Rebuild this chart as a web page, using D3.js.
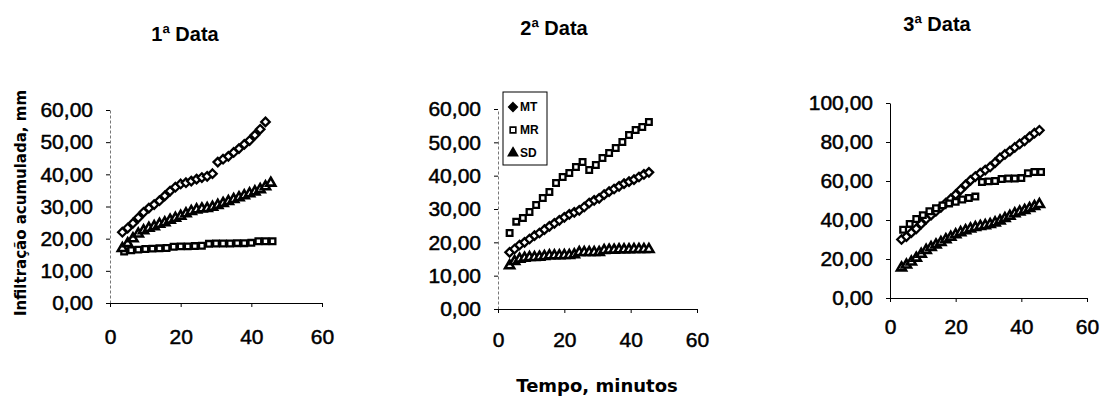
<!DOCTYPE html>
<html>
<head>
<meta charset="utf-8">
<script src="https://cdn.jsdelivr.net/npm/d3@7"></script>
<style>
  body { margin: 0; background: #fff; }
  svg { display: block; }
</style>
</head>
<body>
<svg id="chart" width="1102" height="398"></svg>
<script>
// times (minutes)
const timesA = [3.5, 5, 6.5, 8, 9.5, 11, 12.5, 14, 15.5, 17, 18.5, 20, 21.5, 23, 24.5, 26,
  27.5, 29, 30.5, 32, 33.5, 35, 36.5, 38, 39.5, 41, 42.5, 44, 45.5];
const timesB = [4, 6, 8, 10, 12, 14, 16, 18, 20, 22, 24, 26, 28, 30, 32, 34, 36, 38, 40, 42, 44, 46];
const timesC = [3.5, 5.5, 7.5, 9.5, 11.5, 13.5, 15.5, 17.5, 19.5, 21.5, 23.5, 25.5, 27.5,
  29.5, 31.5, 33.5, 35.5, 37.5, 39.5, 41.5, 43.5, 45.5];

const seriesNames = ["MT", "MR", "SD"];
const titles = ["1ª Data", "2ª Data", "3ª Data"];

// 1a data
const mt1 = [22, 23.3, 24.8, 26.5, 28.2, 29.5, 30.6, 31.8, 33.3, 34.8, 36, 37, 37.4, 37.9, 38.5,
  39, 39.4, 40.2, 43.8, 44.7, 45.6, 46.8, 48, 49.3, 50.5, 52.2, 54, 56.3];
const mr1 = [16, 16.4, 16.6, 16.8, 16.9, 17, 17.1, 17.5, 17.6, 17.6, 17.7, 17.8, 18.4, 18.5,
  18.5, 18.5, 18.6, 18.6, 18.7, 19.2, 19.2, 19.2];
const sd1 = [17, 18.5, 20, 21.5, 22.5, 23.3, 23.8, 24.5, 25, 25.8, 26.4, 27, 27.8, 28.5, 29,
  29.3, 29.4, 29.8, 30.4, 31, 31.6, 32.2, 32.8, 33.4, 34, 34.6, 35.3, 36.2, 37.3];

// 2a data
const mt2 = [17, 18, 19.2, 20, 21, 22, 22.8, 23.8, 24.8, 25.7, 26.6, 27.5, 28.4, 29, 29.6,
  30.6, 31.8, 32.6, 33.2, 34.3, 35.2, 36, 36.8, 37.6, 38.2, 38.8, 39.6, 40.4, 41];
const mr2 = [22.8, 26.2, 27.3, 29.1, 31.2, 33.3, 35.1, 37.8, 39.6, 40.8, 42.6, 44.1, 41.7,
  43.2, 45.3, 46.8, 48.3, 50.1, 52.2, 53.7, 54.6, 56.1];
const sd2 = [13, 14.3, 15, 15.3, 15.5, 15.5, 15.6, 15.8, 16, 16, 16, 16.1, 16.1, 16.3, 17, 17,
  17, 17, 17, 17.6, 17.7, 17.7, 17.8, 17.8, 17.8, 17.9, 17.9, 17.9, 17.9];

// 3a data
const mt3 = [30, 31.5, 33.5, 35.5, 38, 40.5, 42.5, 44.5, 46.5, 48.7, 50.8, 53, 55.5, 58, 60.3,
  62.3, 64, 65.6, 67.2, 69.4, 71.8, 73.6, 75.3, 77.2, 79, 80.6, 82.6, 84.5, 86];
const mr3 = [35, 38, 40.5, 42.5, 44.5, 46, 47.5, 48.5, 49.3, 50.5, 51.3, 52, 59.5, 59.8, 60,
  61, 61.3, 61.3, 61.5, 64, 64.6, 64.6];
const sd3 = [15.5, 17, 18.5, 20.5, 22.5, 24.5, 26, 27.3, 28.5, 30, 31.2, 32.5, 33.6, 34.6,
  35.5, 36.2, 36.8, 37.2, 37.8, 38.6, 39.6, 40.8, 42, 43.3, 44.2, 45, 46, 47, 48];

const xTicks = [0, 20, 40, 60];
const yTicks60 = [0, 10, 20, 30, 40, 50, 60];
const yTicks100 = [0, 20, 40, 60, 80, 100];

// layout only
const panels = [
  { left: 110, top: 110, w: 212, h: 193, ymax: 60, yTicks: yTicks60, pad: 22,
    tx: 185, ty: 34, dashed: true, legend: false,
    data: [[timesA, mt1], [timesB, mr1], [timesA, sd1]] },
  { left: 498, top: 109, w: 199, h: 200, ymax: 60, yTicks: yTicks60, pad: 19,
    tx: 554, ty: 28, dashed: true, legend: true,
    data: [[timesA, mt2], [timesC, mr2], [timesA, sd2]] },
  { left: 890, top: 103, w: 197, h: 195, ymax: 100, yTicks: yTicks100, pad: 17,
    tx: 937, ty: 24, dashed: false, legend: false,
    data: [[timesA, mt3], [timesB, mr3], [timesA, sd3]] }
];

const locale = d3.formatLocale({ decimal: ",", thousands: ".", grouping: [3], currency: ["R$", ""] });
const fmt = locale.format(".2f");

const symbols = [
  d3.symbol().type(d3.symbolDiamond2).size(46),
  d3.symbol().type(d3.symbolSquare).size(32),
  d3.symbol().type(d3.symbolTriangle).size(36)
];

const svg = d3.select("#chart")
  .attr("font-family", "'Liberation Sans', Arial, sans-serif");

panels.forEach((p, i) => {
  const x = d3.scaleLinear().domain([0, 60]).range([0, p.w]);
  const y = d3.scaleLinear().domain([0, p.ymax]).range([p.h, 0]);

  const g = svg.append("g").attr("transform", `translate(${p.left},${p.top})`);

  const ya = g.append("g")
    .call(d3.axisLeft(y).tickValues(p.yTicks).tickFormat(fmt).tickSize(4).tickSizeOuter(0).tickPadding(13));
  ya.selectAll("text").attr("font-size", 21).attr("fill", "#000")
    .attr("stroke", "#000").attr("stroke-width", 0.5);
  ya.select(".domain").attr("stroke", p.dashed ? "#777" : "#000").attr("stroke-dasharray", p.dashed ? "3,2" : null);

  const xa = g.append("g").attr("transform", `translate(0,${p.h})`)
    .call(d3.axisBottom(x).tickValues(xTicks).tickSize(4).tickSizeOuter(0).tickPadding(p.pad));
  xa.selectAll("text").attr("font-size", 21).attr("fill", "#000")
    .attr("stroke", "#000").attr("stroke-width", 0.5);
  xa.select(".domain").attr("stroke", "#000");

  p.data.forEach(([ts, vals], k) => {
    g.append("g").selectAll("path")
      .data(vals)
      .join("path")
      .attr("transform", (d, j) => `translate(${x(ts[j])},${y(d)})`)
      .attr("d", symbols[k])
      .attr("fill", "#fff")
      .attr("stroke", "#000")
      .attr("stroke-width", k === 2 ? 2.6 : 2.3);
  });

  svg.append("text")
    .attr("x", p.tx).attr("y", p.ty)
    .attr("text-anchor", "middle").attr("dominant-baseline", "central")
    .attr("font-size", 20).attr("font-weight", "bold")
    .text(titles[i]);

  if (p.legend) {
    const lg = svg.append("g").attr("transform", "translate(503,92)");
    lg.append("rect").attr("width", 44).attr("height", 73)
      .attr("fill", "#fff").attr("stroke", "#000").attr("stroke-width", 1);
    seriesNames.forEach((name, k) => {
      const ly = 15 + k * 23;
      lg.append("path").attr("transform", `translate(10,${ly})`)
        .attr("d", symbols[k]).attr("fill", k === 1 ? "#fff" : "#000")
        .attr("stroke", "#000").attr("stroke-width", 1.6);
      lg.append("text").attr("x", 17).attr("y", ly).attr("dominant-baseline", "central")
        .attr("font-size", 12).attr("font-weight", "bold").text(name);
    });
  }
});

svg.append("text")
  .attr("x", 597).attr("y", 385)
  .attr("text-anchor", "middle").attr("dominant-baseline", "central")
  .attr("font-family", "'DejaVu Sans', sans-serif")
  .attr("font-size", 18).attr("font-weight", "bold")
  .text("Tempo, minutos");

svg.append("text")
  .attr("transform", "translate(21,203) rotate(-90)")
  .attr("text-anchor", "middle").attr("dominant-baseline", "central")
  .attr("font-family", "'DejaVu Sans', sans-serif")
  .attr("font-size", 15).attr("font-weight", "bold")
  .text("Infiltração acumulada, mm");
</script>
</body>
</html>
